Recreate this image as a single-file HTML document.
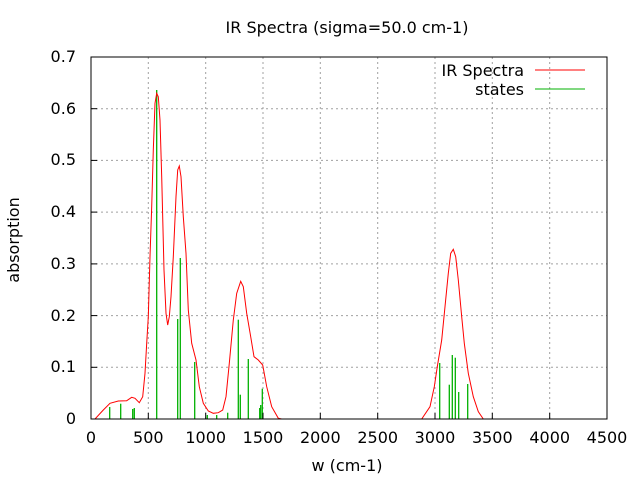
<!DOCTYPE html>
<html><head><style>body{margin:0;background:#fff}svg{display:block}text{font-family:"DejaVu Sans",sans-serif;font-size:16px;fill:#000}</style></head><body>
<svg width="640" height="480" xmlns="http://www.w3.org/2000/svg">
<rect width="640" height="480" fill="#fff"/>
<g stroke="#a0a0a0" stroke-dasharray="2,3" stroke-width="1">
<line x1="91" y1="367.3" x2="607" y2="367.3"/><line x1="91" y1="315.6" x2="607" y2="315.6"/><line x1="91" y1="263.9" x2="607" y2="263.9"/><line x1="91" y1="212.1" x2="607" y2="212.1"/><line x1="91" y1="160.4" x2="607" y2="160.4"/><line x1="91" y1="108.7" x2="607" y2="108.7"/>
<line x1="148.3" y1="57" x2="148.3" y2="419"/><line x1="205.7" y1="57" x2="205.7" y2="419"/><line x1="263" y1="57" x2="263" y2="419"/><line x1="320.3" y1="57" x2="320.3" y2="419"/><line x1="377.7" y1="57" x2="377.7" y2="419"/><line x1="435" y1="57" x2="435" y2="419"/><line x1="492.3" y1="57" x2="492.3" y2="419"/><line x1="549.7" y1="57" x2="549.7" y2="419"/>
</g>
<g stroke="#00b000" stroke-width="1.3">
<line x1="109.7" y1="419" x2="109.7" y2="407"/><line x1="120.7" y1="419" x2="120.7" y2="403.7"/><line x1="132.7" y1="419" x2="132.7" y2="409"/><line x1="134.3" y1="419" x2="134.3" y2="408"/><line x1="156.7" y1="419" x2="156.7" y2="90"/><line x1="177.7" y1="419" x2="177.7" y2="319"/><line x1="180.3" y1="419" x2="180.3" y2="258"/><line x1="194.7" y1="419" x2="194.7" y2="362"/><line x1="207.3" y1="419" x2="207.3" y2="415"/><line x1="216.7" y1="419" x2="216.7" y2="415"/><line x1="227.7" y1="419" x2="227.7" y2="412.7"/><line x1="238.3" y1="419" x2="238.3" y2="319.7"/><line x1="240.3" y1="419" x2="240.3" y2="394.7"/><line x1="248.3" y1="419" x2="248.3" y2="359"/><line x1="259.7" y1="419" x2="259.7" y2="408"/><line x1="260.7" y1="419" x2="260.7" y2="405"/><line x1="262.3" y1="419" x2="262.3" y2="388.7"/>
<line x1="439.7" y1="419" x2="439.7" y2="363"/><line x1="449.3" y1="419" x2="449.3" y2="384.7"/><line x1="452.3" y1="419" x2="452.3" y2="355"/><line x1="455.3" y1="419" x2="455.3" y2="357.7"/><line x1="458.7" y1="419" x2="458.7" y2="392"/><line x1="467.7" y1="419" x2="467.7" y2="384"/>
</g>
<polyline fill="none" stroke="#ff0000" stroke-width="1" points="91,419 95,419 103.3,410 110,403.3 118.3,401 126.7,400.7 131.7,397.3 135,398.3 139.3,402.7 142.7,396.7 145,373.3 146.7,343.3 148.3,316.7 150,256.7 151.7,206.7 153.3,150 155,103.3 156.7,93.3 158.3,96.7 160,120 161.7,176.7 164,270 166,313.3 167.7,325 169.3,316.7 171,296.7 173.3,256.7 176,196.7 177.7,170 179.3,166 181,176.7 183.3,216.7 186,253.3 188.3,310 191.7,343.3 196,360 199.3,386.7 203.3,403.3 208.3,411 213.3,413.3 218.3,412.7 222.7,410 226,396.7 229.3,363.3 233.3,320 236.7,293.3 240.7,281.3 243.3,286.7 246.7,313.3 250.7,336.7 254,356.7 258.3,360 262.7,365 266.7,386.7 271.7,406.7 278.3,418.3 281.7,419 421.7,419 430,406.7 434.3,386.7 437.3,366.7 441.7,340 445,306.7 448.3,273.3 450.7,253.3 453.3,249.3 455.7,256.7 458.3,280 461.7,316.7 464.3,343.3 468.3,373.3 473.3,396.7 478.3,411.7 483.3,419 607,419"/>
<rect x="91" y="57" width="516" height="362" fill="none" stroke="#000" stroke-width="1"/>
<g stroke="#000">
<line x1="91" y1="367.3" x2="97" y2="367.3"/><line x1="91" y1="315.6" x2="97" y2="315.6"/><line x1="91" y1="263.9" x2="97" y2="263.9"/><line x1="91" y1="212.1" x2="97" y2="212.1"/><line x1="91" y1="160.4" x2="97" y2="160.4"/><line x1="91" y1="108.7" x2="97" y2="108.7"/>
<line x1="148.3" y1="419" x2="148.3" y2="413"/><line x1="205.7" y1="419" x2="205.7" y2="413"/><line x1="263" y1="419" x2="263" y2="413"/><line x1="320.3" y1="419" x2="320.3" y2="413"/><line x1="377.7" y1="419" x2="377.7" y2="413"/><line x1="435" y1="419" x2="435" y2="413"/><line x1="492.3" y1="419" x2="492.3" y2="413"/><line x1="549.7" y1="419" x2="549.7" y2="413"/>
</g>
<g text-anchor="end">
<text x="76" y="424">0</text><text x="76" y="372">0.1</text><text x="76" y="321">0.2</text><text x="76" y="269">0.3</text><text x="76" y="217">0.4</text><text x="76" y="165">0.5</text><text x="76" y="114">0.6</text><text x="76" y="62">0.7</text>
</g>
<g text-anchor="middle">
<text x="91" y="443">0</text><text x="148.3" y="443">500</text><text x="205.7" y="443">1000</text><text x="263" y="443">1500</text><text x="320.3" y="443">2000</text><text x="377.7" y="443">2500</text><text x="435" y="443">3000</text><text x="492.3" y="443">3500</text><text x="549.7" y="443">4000</text><text x="607" y="443">4500</text>
<text x="347" y="471">w (cm-1)</text>
<text x="347" y="33">IR Spectra (sigma=50.0 cm-1)</text>
<text transform="translate(19,240) rotate(-90)">absorption</text>
</g>
<text x="524" y="76" text-anchor="end">IR Spectra</text>
<text x="524" y="95" text-anchor="end">states</text>
<line x1="535" y1="70" x2="585" y2="70" stroke="#ff0000"/>
<line x1="535" y1="89" x2="585" y2="89" stroke="#00b000"/>
</svg>
</body></html>
